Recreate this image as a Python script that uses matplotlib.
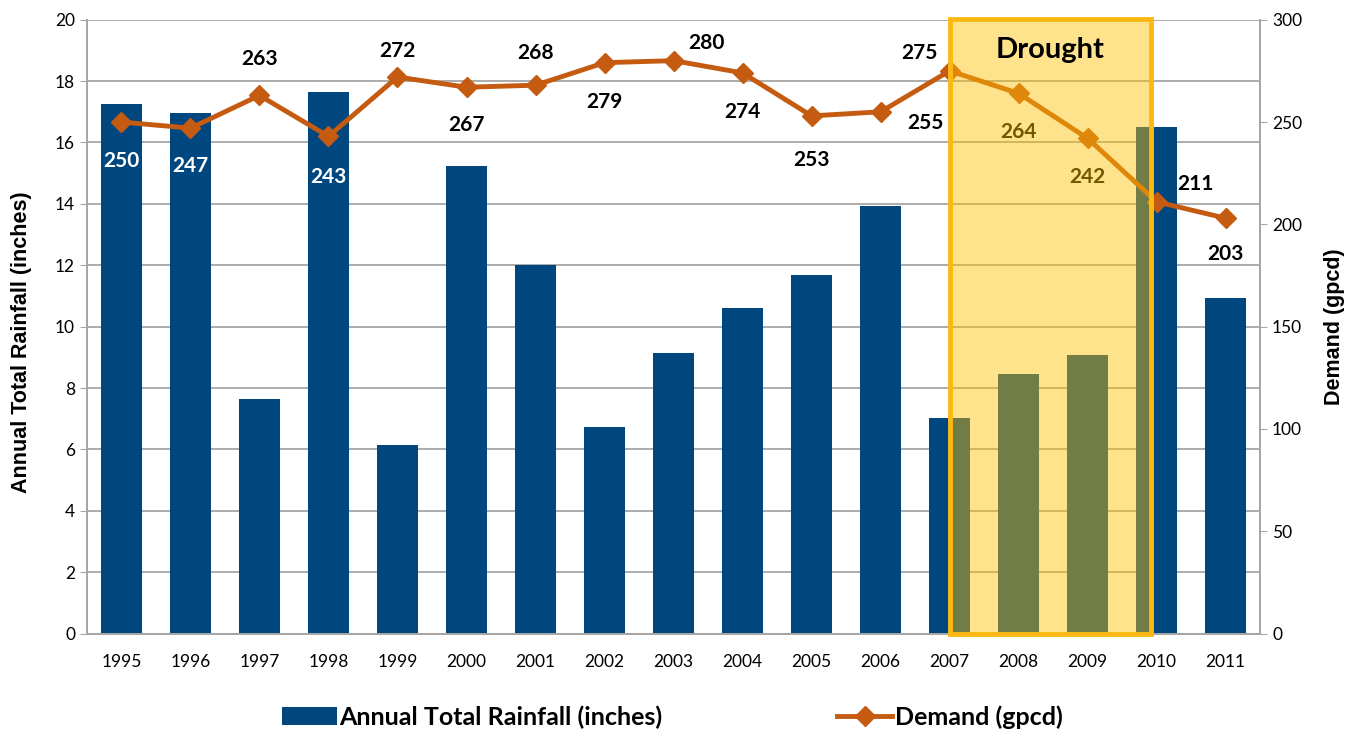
import matplotlib.pyplot as plt
from matplotlib.patches import Rectangle, Patch
from matplotlib.lines import Line2D
import numpy as np

years = ['1995', '1996', '1997', '1998', '1999', '2000', '2001', '2002', '2003',
         '2004', '2005', '2006', '2007', '2008', '2009', '2010', '2011']
rainfall = [17.25, 16.97, 7.65, 17.65, 6.16, 15.24, 12.02, 6.74, 9.15,
            10.62, 11.69, 13.94, 7.04, 8.47, 9.09, 16.51, 10.94]
demand = [250, 247, 263, 243, 272, 267, 268, 279, 280,
          274, 253, 255, 275, 264, 242, 211, 203]

# label offsets in points (dx, dy) relative to the marker
label_offsets = [(0, -28), (0, -27), (0, 26), (0, -29), (0, 19), (0, -27), (0, 23),
                 (0, -28), (24, 13), (0, -28), (0, -32), (32, -8), (-22, 13),
                 (0, -28), (0, -28), (28, 13), (0, -26)]
label_colors = ['white', 'white', 'black', 'white'] + ['black'] * 13

plt.rcParams['font.family'] = ['Lato', 'DejaVu Sans']

BLUE = '#00467F'
ORANGE = '#C55A11'
GRID = '#A6A6A6'

fig = plt.figure(figsize=(13.58, 7.30), dpi=100)
ax1 = fig.add_axes([0.064, 0.132, 0.864, 0.841])
ax2 = ax1.twinx()

x = np.arange(len(years))
ax1.bar(x, rainfall, width=0.6, color=BLUE, zorder=2)
ax1.set_xlim(-0.5, len(years) - 0.5)
ax1.set_ylim(0, 20)
ax1.set_yticks(np.arange(0, 21, 2))
ax1.set_xticks(x)
ax1.set_xticklabels(years)
ax1.yaxis.grid(True, color=GRID, linewidth=1.3, zorder=0)
ax1.set_axisbelow(True)
ax1.tick_params(axis='y', direction='out', length=5, color=GRID, labelsize=12.5)
ax1.tick_params(axis='x', length=0, labelsize=12.5, pad=15)
ax1.set_ylabel('Annual Total Rainfall (inches)', fontsize=15.5, fontweight='bold',
               family='Liberation Sans')
ax1.yaxis.set_label_coords(-0.047, 0.475)

ax2.plot(x, demand, color=ORANGE, linewidth=3.5, marker='D', markersize=10, zorder=3)
ax2.set_ylim(0, 300)
ax2.set_yticks(np.arange(0, 301, 50))
ax2.tick_params(axis='y', direction='out', length=5, color=GRID, labelsize=12.5)
ax2.set_ylabel('Demand (gpcd)', fontsize=15.5, fontweight='bold',
               family='Liberation Sans', labelpad=16)

for ax in (ax1, ax2):
    ax.spines['top'].set_visible(False)
    for s in ('left', 'right', 'bottom'):
        ax.spines[s].set_color(GRID)
        ax.spines[s].set_linewidth(1.3)

for i, (d, off, c) in enumerate(zip(demand, label_offsets, label_colors)):
    ax2.annotate(str(d), (x[i], d), xytext=off, textcoords='offset points',
                 ha='center', va='center', fontsize=15, fontweight='bold',
                 color=c, zorder=4)

# drought period highlight
box = Rectangle((12, 0), 2.92, 300.5, facecolor=(1.0, 0.753, 0.0, 0.45),
                edgecolor='#FDB913', linewidth=3.5, zorder=5, clip_on=False)
ax2.add_patch(box)
ax2.text(13.46, 285, 'Drought', ha='center', va='center', fontsize=21,
         fontweight='bold', color='black', zorder=6)

handles = [Patch(facecolor=BLUE, edgecolor='none'),
           Line2D([], [], color=ORANGE, linewidth=3.5, marker='D', markersize=10)]
fig.legend(handles, ['Annual Total Rainfall (inches)', 'Demand (gpcd)'],
           loc='center', bbox_to_anchor=(0.495, 0.018), ncol=2, frameon=False,
           prop={'size': 18, 'weight': 'bold'}, handlelength=2.2, handletextpad=0.1,
           columnspacing=7)

fig.savefig('out.png', dpi=100)
